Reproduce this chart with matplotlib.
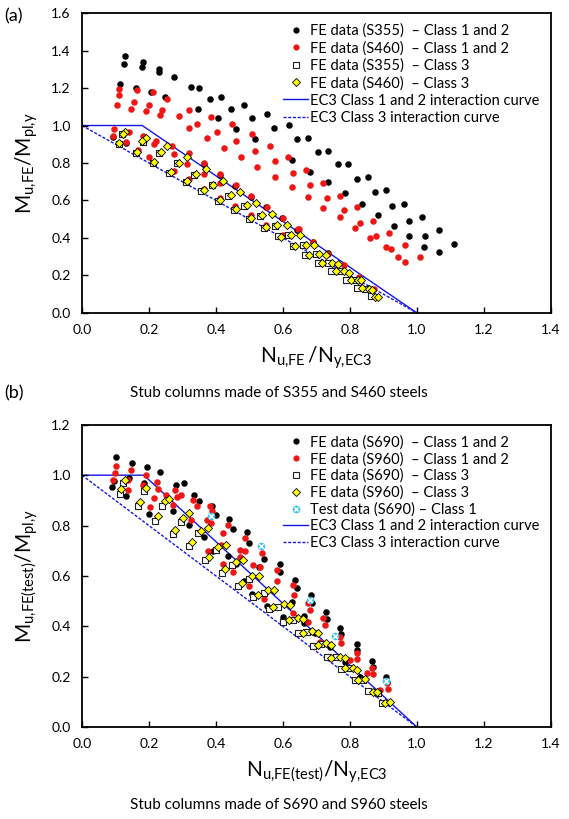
import matplotlib
matplotlib.use('Agg')
import matplotlib.pyplot as plt
from matplotlib.lines import Line2D

plt.rcParams['font.family'] = ['Lato', 'DejaVu Sans']
plt.rcParams['mathtext.fontset'] = 'custom'
plt.rcParams['mathtext.rm'] = 'Lato'
plt.rcParams['mathtext.it'] = 'Lato'
plt.rcParams['mathtext.default'] = 'regular'

# ---------------- (a) S355 / S460 ----------------
a_s355_c12_n = [0.129, 0.125, 0.114, 0.160, 0.182, 0.178, 0.231, 0.229, 0.276, 0.206, 0.249, 0.327, 0.351,
                0.382, 0.416, 0.347, 0.405, 0.444, 0.484, 0.461, 0.507, 0.552, 0.573, 0.617, 0.517, 0.641,
                0.676, 0.706, 0.736, 0.627, 0.682, 0.764, 0.793, 0.735, 0.820, 0.853, 0.786, 0.876, 0.908,
                0.837, 0.927, 0.961, 0.885, 0.931, 0.978, 1.014, 0.977, 1.023, 1.066, 1.021, 1.067, 1.112,
                0.094, 0.131, 0.364, 0.411, 0.457, 0.504, 0.551, 0.598, 0.643, 0.690, 0.736]
a_s355_c12_m = [1.371, 1.330, 1.223, 1.200, 1.339, 1.314, 1.303, 1.287, 1.259, 1.179, 1.154, 1.204, 1.200,
                1.143, 1.154, 1.090, 1.038, 1.090, 1.111, 0.983, 1.038, 1.061, 0.987, 1.003, 0.926, 0.928,
                0.935, 0.861, 0.866, 0.814, 0.754, 0.795, 0.795, 0.700, 0.716, 0.724, 0.642, 0.645, 0.654,
                0.583, 0.569, 0.581, 0.523, 0.466, 0.491, 0.509, 0.411, 0.411, 0.441, 0.350, 0.327, 0.368,
                0.940, 0.908, 0.793, 0.736, 0.677, 0.620, 0.564, 0.505, 0.443, 0.380, 0.318]

a_s460_c12_n = [0.110, 0.110, 0.105, 0.163, 0.156, 0.147, 0.211, 0.199, 0.192, 0.253, 0.240, 0.233, 0.290,
                0.321, 0.319, 0.345, 0.384, 0.372, 0.402, 0.447, 0.424, 0.460, 0.507, 0.476, 0.518, 0.561,
                0.524, 0.577, 0.615, 0.577, 0.630, 0.627, 0.668, 0.682, 0.676, 0.721, 0.733, 0.721, 0.770,
                0.782, 0.770, 0.822, 0.831, 0.814, 0.870, 0.877, 0.859, 0.917, 0.923, 0.909, 0.964, 0.966,
                0.945, 1.008,
                0.097, 0.092, 0.140, 0.132, 0.182, 0.220, 0.216, 0.168, 0.201, 0.270, 0.275, 0.275, 0.319,
                0.315, 0.319, 0.365, 0.363, 0.363, 0.412, 0.412, 0.411, 0.459, 0.458, 0.504, 0.504, 0.554,
                0.551, 0.599, 0.599, 0.647, 0.646, 0.690, 0.736, 0.783, 0.827, 0.873]
a_s460_c12_m = [1.196, 1.161, 1.111, 1.189, 1.127, 1.090, 1.177, 1.107, 1.075, 1.140, 1.081, 1.054, 1.049,
                1.084, 0.985, 1.010, 1.045, 0.933, 0.967, 1.010, 0.880, 0.917, 0.956, 0.830, 0.864, 0.892,
                0.779, 0.811, 0.830, 0.725, 0.748, 0.674, 0.760, 0.681, 0.619, 0.695, 0.611, 0.562, 0.626,
                0.548, 0.511, 0.564, 0.482, 0.453, 0.492, 0.411, 0.398, 0.428, 0.343, 0.350, 0.364, 0.272,
                0.297, 0.297,
                0.981, 0.944, 0.964, 0.910, 0.944, 0.919, 0.901, 0.869, 0.830, 0.892, 0.846, 0.759, 0.852,
                0.792, 0.716, 0.798, 0.741, 0.660, 0.740, 0.692, 0.615, 0.685, 0.569, 0.624, 0.523, 0.567,
                0.469, 0.505, 0.416, 0.446, 0.446, 0.380, 0.315, 0.254, 0.194, 0.126]

a_s355_c3_n = [0.120, 0.111, 0.181, 0.161, 0.212, 0.231, 0.260, 0.283, 0.310, 0.335, 0.357, 0.387, 0.405,
               0.437, 0.453, 0.484, 0.499, 0.531, 0.543, 0.576, 0.586, 0.616, 0.631, 0.659, 0.666, 0.700,
               0.706, 0.735, 0.745, 0.775, 0.787, 0.815, 0.820, 0.848, 0.862]
a_s355_c3_m = [0.953, 0.901, 0.914, 0.852, 0.800, 0.855, 0.748, 0.798, 0.699, 0.736, 0.651, 0.683, 0.599,
               0.626, 0.549, 0.572, 0.501, 0.519, 0.453, 0.466, 0.411, 0.416, 0.359, 0.363, 0.311, 0.315,
               0.265, 0.265, 0.221, 0.221, 0.176, 0.176, 0.135, 0.130, 0.091]

a_s460_c3_n = [0.130, 0.123, 0.111, 0.191, 0.180, 0.165, 0.216, 0.235, 0.255, 0.266, 0.290, 0.314, 0.314,
               0.340, 0.369, 0.363, 0.392, 0.420, 0.413, 0.444, 0.473, 0.459, 0.492, 0.520, 0.504, 0.538,
               0.567, 0.549, 0.583, 0.611, 0.593, 0.624, 0.651, 0.636, 0.668, 0.693, 0.678, 0.708, 0.730,
               0.717, 0.746, 0.765, 0.760, 0.783, 0.797, 0.803, 0.823, 0.834, 0.835, 0.858, 0.866, 0.875,
               0.883]
a_s460_c3_m = [0.964, 0.953, 0.909, 0.932, 0.916, 0.857, 0.804, 0.859, 0.891, 0.754, 0.798, 0.830, 0.704,
               0.741, 0.766, 0.656, 0.685, 0.706, 0.603, 0.630, 0.645, 0.555, 0.576, 0.585, 0.505, 0.521,
               0.526, 0.457, 0.468, 0.469, 0.407, 0.416, 0.414, 0.359, 0.363, 0.361, 0.309, 0.315, 0.311,
               0.265, 0.265, 0.260, 0.221, 0.221, 0.215, 0.176, 0.176, 0.173, 0.135, 0.130, 0.123, 0.087,
               0.082]

# ---------------- (b) S690 / S960 ----------------
b_s690_c12_n = [0.103, 0.096, 0.090, 0.131, 0.148, 0.141, 0.193, 0.186, 0.233, 0.201, 0.281, 0.304, 0.273,
                0.334, 0.350, 0.321, 0.387, 0.400, 0.365, 0.440, 0.450, 0.392, 0.437, 0.492, 0.499, 0.460,
                0.543, 0.529, 0.484, 0.509, 0.591, 0.591, 0.637, 0.641, 0.554, 0.601, 0.685, 0.688, 0.664,
                0.728, 0.732, 0.772, 0.775, 0.820, 0.822, 0.865, 0.868, 0.907, 0.910,
                0.626, 0.663, 0.696, 0.740, 0.785, 0.830, 0.875]
b_s690_c12_m = [1.071, 0.975, 0.953, 0.916, 1.048, 0.989, 1.031, 0.969, 1.011, 0.847, 0.962, 0.969, 0.856,
                0.922, 0.896, 0.803, 0.876, 0.843, 0.754, 0.826, 0.786, 0.700, 0.680, 0.773, 0.730, 0.648,
                0.667, 0.635, 0.578, 0.529, 0.648, 0.614, 0.584, 0.551, 0.481, 0.438, 0.525, 0.492, 0.412,
                0.455, 0.430, 0.392, 0.370, 0.330, 0.305, 0.262, 0.240, 0.200, 0.180,
                0.498, 0.441, 0.375, 0.317, 0.260, 0.200, 0.140]

b_s960_c12_n = [0.101, 0.099, 0.094, 0.146, 0.139, 0.138, 0.190, 0.181, 0.223, 0.228, 0.216, 0.204, 0.251,
                0.278, 0.284, 0.271, 0.296, 0.332, 0.344, 0.327, 0.382, 0.387, 0.384, 0.372, 0.437, 0.422,
                0.414, 0.377, 0.422, 0.487, 0.472, 0.487, 0.472, 0.539, 0.531, 0.511, 0.581, 0.583, 0.629,
                0.632, 0.675, 0.681, 0.720, 0.725, 0.770, 0.775, 0.820, 0.822, 0.865, 0.868, 0.912, 0.915,
                0.452, 0.500, 0.545, 0.631, 0.676, 0.710, 0.800, 0.850, 0.890]
b_s960_c12_m = [1.035, 1.009, 0.979, 1.022, 0.982, 0.942, 1.002, 0.962, 0.973, 0.945, 0.909, 0.874, 0.922,
                0.942, 0.913, 0.883, 0.922, 0.903, 0.876, 0.823, 0.879, 0.856, 0.810, 0.823, 0.803, 0.770,
                0.724, 0.697, 0.648, 0.750, 0.704, 0.700, 0.675, 0.690, 0.637, 0.644, 0.624, 0.580, 0.563,
                0.523, 0.492, 0.465, 0.432, 0.405, 0.359, 0.335, 0.293, 0.270, 0.233, 0.210, 0.174, 0.150,
                0.617, 0.560, 0.510, 0.452, 0.419, 0.339, 0.266, 0.213, 0.147]

b_s690_c3_n = [0.113, 0.123, 0.166, 0.186, 0.218, 0.238, 0.271, 0.295, 0.320, 0.347, 0.367, 0.400, 0.417,
               0.447, 0.467, 0.499, 0.511, 0.543, 0.559, 0.586, 0.601, 0.631, 0.646, 0.671, 0.690, 0.715,
               0.732, 0.760, 0.775, 0.800, 0.815, 0.840, 0.855, 0.885, 0.895]
b_s690_c3_m = [0.926, 0.969, 0.876, 0.936, 0.820, 0.879, 0.768, 0.815, 0.717, 0.771, 0.665, 0.704, 0.610,
               0.644, 0.561, 0.587, 0.515, 0.531, 0.470, 0.478, 0.419, 0.425, 0.372, 0.379, 0.321, 0.330,
               0.277, 0.280, 0.229, 0.233, 0.187, 0.187, 0.144, 0.136, 0.094]

b_s960_c3_n = [0.118, 0.129, 0.173, 0.191, 0.228, 0.248, 0.261, 0.278, 0.302, 0.320, 0.330, 0.357, 0.377,
               0.380, 0.407, 0.430, 0.428, 0.459, 0.481, 0.477, 0.509, 0.529, 0.526, 0.556, 0.574, 0.571,
               0.603, 0.621, 0.618, 0.646, 0.661, 0.659, 0.688, 0.706, 0.706, 0.730, 0.745, 0.745, 0.770,
               0.785, 0.785, 0.810, 0.820, 0.823, 0.845, 0.868, 0.881, 0.906, 0.919]
b_s960_c3_m = [0.946, 0.982, 0.892, 0.949, 0.839, 0.897, 0.905, 0.783, 0.830, 0.849, 0.733, 0.777, 0.790,
               0.677, 0.714, 0.724, 0.627, 0.657, 0.664, 0.571, 0.600, 0.600, 0.525, 0.545, 0.545, 0.476,
               0.489, 0.485, 0.425, 0.432, 0.428, 0.375, 0.383, 0.375, 0.326, 0.333, 0.326, 0.273, 0.280,
               0.273, 0.233, 0.233, 0.227, 0.187, 0.189, 0.140, 0.140, 0.094, 0.101]

b_test_n = [0.384, 0.536, 0.680, 0.755, 0.909]
b_test_m = [0.839, 0.720, 0.505, 0.363, 0.184]

# EC3 interaction curves (knee of the Class 1 and 2 curve)
a_ec3_c12_n = [0.0, 0.18, 1.0]
b_ec3_c12_n = [0.0, 0.185, 1.0]
ec3_c12_m = [1.0, 1.0, 0.0]
ec3_c3_n = [0.0, 1.0]
ec3_c3_m = [1.0, 0.0]

BLUE = '#1515e6'
RED = '#f01616'
CYAN = '#3dc6f2'
DASH = '\u2013'

fig = plt.figure(figsize=(5.69, 8.19), dpi=100)
ax_a = fig.add_axes([0.144, 0.618, 0.824, 0.366])
ax_b = fig.add_axes([0.144, 0.1123, 0.824, 0.369])

dot = dict(s=22, linewidths=0)
sq = dict(s=17, marker='s', facecolors='white', edgecolors='#222222', linewidths=0.8)
dia = dict(s=17, marker='D', facecolors='#ffff00', edgecolors='black', linewidths=0.6)


def draw_curves(ax, c12_n):
    ax.plot(c12_n, ec3_c12_m, color=BLUE, lw=1.0, zorder=1)
    ax.plot(ec3_c3_n, ec3_c3_m, color=BLUE, lw=1.0, ls=(0, (2.2, 1.2)), zorder=1)


def style_axes(ax, ymax, xlabel, ylabel):
    ax.set_xlim(0, 1.4)
    ax.set_ylim(0, ymax)
    ax.set_xticks([0.0, 0.2, 0.4, 0.6, 0.8, 1.0, 1.2, 1.4])
    ax.set_yticks([i * 0.2 for i in range(int(round(ymax / 0.2)) + 1)])
    ax.xaxis.set_major_formatter(matplotlib.ticker.FormatStrFormatter('%.1f'))
    ax.yaxis.set_major_formatter(matplotlib.ticker.FormatStrFormatter('%.1f'))
    ax.tick_params(direction='in', length=4, width=1.0, labelsize=10, pad=8)
    for sp in ax.spines.values():
        sp.set_linewidth(1.3)
    ax.set_xlabel(xlabel, fontsize=15, labelpad=6)
    ax.set_ylabel(ylabel, fontsize=15, labelpad=8)


def legend_handles(items):
    hs = []
    for kind, color in items:
        if kind == 'dot':
            hs.append(Line2D([], [], ls='none', marker='o', ms=4.5, mfc=color, mec=color, mew=0))
        elif kind == 'sq':
            hs.append(Line2D([], [], ls='none', marker='s', ms=4.0, mfc='white', mec='#222222', mew=0.8))
        elif kind == 'dia':
            hs.append(Line2D([], [], ls='none', marker='D', ms=4.0, mfc='#ffff00', mec='black', mew=0.6))
        elif kind == 'test':
            hs.append((Line2D([], [], ls='none', marker='o', ms=5.5, mfc=CYAN, mec=CYAN, mew=0),
                       Line2D([], [], ls='none', marker='x', ms=3.5, mec='white', mew=1.0)))
        elif kind == 'solid':
            hs.append(Line2D([], [], color=BLUE, lw=1.0))
        else:
            hs.append(Line2D([], [], color=BLUE, lw=1.0, ls=(0, (2.2, 1.2))))
    return hs


# panel (a)
draw_curves(ax_a, a_ec3_c12_n)
ax_a.scatter(a_s355_c12_n, a_s355_c12_m, color='black', zorder=2, **dot)
ax_a.scatter(a_s460_c12_n, a_s460_c12_m, color=RED, zorder=3, **dot)
ax_a.scatter(a_s355_c3_n, a_s355_c3_m, zorder=4, **sq)
ax_a.scatter(a_s460_c3_n, a_s460_c3_m, zorder=5, **dia)
style_axes(ax_a, 1.6, r'$N_{\text{u,FE}}\,/N_{\text{y,EC3}}$', r'$M_{\text{u,FE}}/M_{\text{pl,y}}$')
labels_a = ['FE data (S355)  ' + DASH + ' Class 1 and 2',
            'FE data (S460)  ' + DASH + ' Class 1 and 2',
            'FE data (S355)  ' + DASH + ' Class 3',
            'FE data (S460)  ' + DASH + ' Class 3',
            'EC3 Class 1 and 2 interaction curve',
            'EC3 Class 3 interaction curve']
handles_a = legend_handles([('dot', 'black'), ('dot', RED), ('sq', None), ('dia', None),
                            ('solid', None), ('dash', None)])
ax_a.legend(handles_a, labels_a, loc='upper right', bbox_to_anchor=(0.995, 0.995), frameon=False,
            fontsize=10.5, handlelength=1.7, handletextpad=0.15, labelspacing=0.22, borderpad=0.1)

# panel (b)
draw_curves(ax_b, b_ec3_c12_n)
ax_b.scatter(b_s690_c12_n, b_s690_c12_m, color='black', zorder=2, **dot)
ax_b.scatter(b_s960_c12_n, b_s960_c12_m, color=RED, zorder=3, **dot)
ax_b.scatter(b_s690_c3_n, b_s690_c3_m, zorder=4, **sq)
ax_b.scatter(b_s960_c3_n, b_s960_c3_m, zorder=5, **dia)
ax_b.scatter(b_test_n, b_test_m, s=30, marker='o', color=CYAN, linewidths=0, zorder=6)
ax_b.scatter(b_test_n, b_test_m, s=12, marker='x', color='white', linewidths=1.0, zorder=7)
style_axes(ax_b, 1.2, r'$N_{\text{u,FE(test)}}/N_{\text{y,EC3}}$', r'$M_{\text{u,FE(test)}}/M_{\text{pl,y}}$')
labels_b = ['FE data (S690)  ' + DASH + ' Class 1 and 2',
            'FE data (S960)  ' + DASH + ' Class 1 and 2',
            'FE data (S690)  ' + DASH + ' Class 3',
            'FE data (S960)  ' + DASH + ' Class 3',
            'Test data (S690) ' + DASH + ' Class 1',
            'EC3 Class 1 and 2 interaction curve',
            'EC3 Class 3 interaction curve']
handles_b = legend_handles([('dot', 'black'), ('dot', RED), ('sq', None), ('dia', None), ('test', None),
                            ('solid', None), ('dash', None)])
ax_b.legend(handles_b, labels_b, loc='upper right', bbox_to_anchor=(0.995, 0.995), frameon=False,
            fontsize=10.5, handlelength=1.7, handletextpad=0.15, labelspacing=0.17, borderpad=0.1)

fig.text(0.008, 0.980, '(a)', fontsize=13, va='center')
fig.text(0.008, 0.520, '(b)', fontsize=13, va='center')
fig.text(0.49, 0.520, 'Stub columns made of S355 and S460 steels', fontsize=11, ha='center', va='center')
fig.text(0.49, 0.017, 'Stub columns made of S690 and S960 steels', fontsize=11, ha='center', va='center')

fig.savefig('out.png', dpi=100)
